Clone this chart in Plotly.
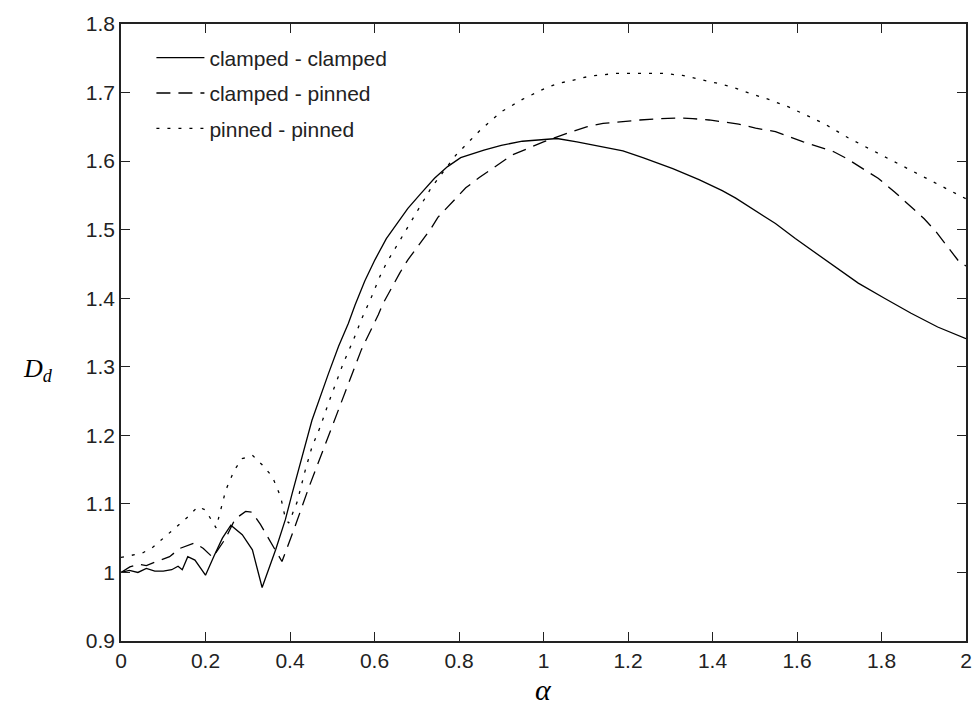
import plotly.graph_objects as go

# clamped - clamped (solid)
cc_x = [0, 0.02, 0.04, 0.06, 0.08, 0.10, 0.12, 0.135, 0.145, 0.158, 0.175, 0.2, 0.221, 0.24, 0.26,
        0.287, 0.311, 0.334, 0.366, 0.389, 0.405, 0.425, 0.452, 0.491, 0.515, 0.538, 0.554, 0.577,
        0.601, 0.628, 0.656, 0.679, 0.71, 0.742, 0.773, 0.804, 0.859, 0.9, 0.95, 1.0, 1.032, 1.079,
        1.133, 1.188, 1.235, 1.306, 1.368, 1.423, 1.455, 1.549, 1.596, 1.651, 1.682, 1.745, 1.807,
        1.87, 1.933, 1.988, 2.0]
cc_y = [1.0, 1.003, 1.0, 1.006, 1.002, 1.002, 1.004, 1.009, 1.004, 1.023, 1.018, 0.996, 1.025, 1.05,
        1.069, 1.055, 1.033, 0.978, 1.033, 1.077, 1.115, 1.159, 1.222, 1.29, 1.33, 1.363, 1.39,
        1.425, 1.456, 1.487, 1.511, 1.531, 1.553, 1.575, 1.592, 1.605, 1.616, 1.623, 1.629, 1.632,
        1.633, 1.628, 1.622, 1.615, 1.605, 1.589, 1.573, 1.557, 1.546, 1.509, 1.487, 1.463, 1.449,
        1.422, 1.4, 1.378, 1.358, 1.344, 1.341]

# clamped - pinned (dashed)
cp_x = [0, 0.021, 0.04, 0.06, 0.08, 0.1, 0.115, 0.139, 0.174, 0.195, 0.217, 0.248, 0.27, 0.295, 0.31,
        0.33, 0.366, 0.381, 0.409, 0.444, 0.483, 0.495, 0.519, 0.534, 0.558, 0.569, 0.609, 0.62,
        0.66, 0.679, 0.734, 0.75, 0.816, 0.848, 0.926, 1.0, 1.067, 1.102, 1.141, 1.188, 1.228,
        1.274, 1.32, 1.353, 1.392, 1.462, 1.502, 1.549, 1.572, 1.615, 1.686, 1.717, 1.792, 1.831,
        1.901, 1.929, 1.984, 2.0]
cp_y = [1.0, 1.008, 1.012, 1.01, 1.015, 1.02, 1.023, 1.035, 1.043, 1.035, 1.022, 1.05, 1.078, 1.089,
        1.088, 1.07, 1.033, 1.016, 1.062, 1.123, 1.186, 1.205, 1.245, 1.269, 1.305, 1.325, 1.376,
        1.392, 1.437, 1.456, 1.502, 1.518, 1.561, 1.576, 1.609, 1.628, 1.643, 1.65, 1.655, 1.658,
        1.66, 1.662, 1.663, 1.662, 1.66, 1.654, 1.648, 1.643, 1.638, 1.628, 1.614, 1.604, 1.575,
        1.555, 1.516, 1.497, 1.453, 1.447]

# pinned - pinned (dotted)
pp_x = [0, 0.03, 0.05, 0.076, 0.1, 0.131, 0.16, 0.182, 0.2, 0.225, 0.248, 0.268, 0.287, 0.311, 0.334,
        0.358, 0.378, 0.389, 0.397, 0.417, 0.436, 0.452, 0.472, 0.491, 0.526, 0.55, 0.569, 0.593,
        0.613, 0.628, 0.656, 0.683, 0.703, 0.718, 0.734, 0.793, 0.85, 0.9, 0.95, 1.0, 1.032, 1.063,
        1.11, 1.173, 1.282, 1.329, 1.368, 1.408, 1.447, 1.478, 1.533, 1.58, 1.615, 1.666, 1.721,
        1.784, 1.831, 1.886, 1.941, 1.996, 2.0]
pp_y = [1.022, 1.025, 1.028, 1.037, 1.05, 1.067, 1.082, 1.096, 1.091, 1.065, 1.12, 1.149, 1.166,
        1.171, 1.157, 1.14, 1.11, 1.079, 1.072, 1.103, 1.149, 1.183, 1.213, 1.247, 1.305, 1.339,
        1.369, 1.402, 1.432, 1.451, 1.48, 1.51, 1.529, 1.545, 1.561, 1.609, 1.645, 1.672, 1.69,
        1.705, 1.713, 1.717, 1.724, 1.728, 1.728, 1.725, 1.72, 1.714, 1.708, 1.701, 1.69, 1.679,
        1.669, 1.654, 1.634, 1.614, 1.599, 1.581, 1.563, 1.546, 1.545]

x_ticks = [0, 0.2, 0.4, 0.6, 0.8, 1.0, 1.2, 1.4, 1.6, 1.8, 2.0]
x_labels = ["0", "0.2", "0.4", "0.6", "0.8", "1", "1.2", "1.4", "1.6", "1.8", "2"]
y_ticks = [0.9, 1.0, 1.1, 1.2, 1.3, 1.4, 1.5, 1.6, 1.7, 1.8]
y_labels = ["0.9", "1", "1.1", "1.2", "1.3", "1.4", "1.5", "1.6", "1.7", "1.8"]

names = ["clamped - clamped", "clamped - pinned", "pinned - pinned"]

fig = go.Figure()
fig.add_trace(go.Scatter(x=cc_x, y=cc_y, mode="lines", name=names[0], legendgroup="a",
                         line=dict(color="black", width=1.3, dash="solid")))
fig.add_trace(go.Scatter(x=cp_x, y=cp_y, mode="lines", name=names[1], legendgroup="b",
                         line=dict(color="black", width=1.3, dash="14px,8px")))
fig.add_trace(go.Scatter(x=pp_x, y=pp_y, mode="lines", name=names[2], legendgroup="c",
                         line=dict(color="black", width=1.3, dash="3px,8px")))

tickfont = dict(family="Liberation Sans, Arial, sans-serif", size=21, color="#222")
fig.update_layout(
    width=980, height=709,
    margin=dict(l=121, r=8, t=24, b=68),
    paper_bgcolor="white", plot_bgcolor="white",
    showlegend=True,
    legend=dict(x=0.036, y=0.978, xanchor="left", yanchor="top",
                bgcolor="rgba(0,0,0,0)", borderwidth=0, traceorder="grouped",
                tracegroupgap=5, itemwidth=48,
                font=dict(family="Liberation Sans, Arial, sans-serif", size=21, color="#222")),
    xaxis=dict(range=[0, 2], tickvals=x_ticks, ticktext=x_labels, ticks="inside", ticklen=9,
               tickcolor="#222", tickwidth=1.3, showline=True, linecolor="#222", linewidth=1.6,
               mirror="ticks", showgrid=False, zeroline=False, tickfont=tickfont),
    yaxis=dict(range=[0.9, 1.8], tickvals=y_ticks, ticktext=y_labels, ticks="inside", ticklen=9,
               tickcolor="#222", tickwidth=1.3, showline=True, linecolor="#222", linewidth=1.6,
               mirror="ticks", showgrid=False, zeroline=False, tickfont=tickfont),
    annotations=[
        dict(text="<i>D</i><sub><i>d</i></sub>", xref="paper", yref="paper", x=-0.098, y=0.439,
             showarrow=False, xanchor="center", yanchor="middle",
             font=dict(family="Liberation Serif, Times New Roman, serif", size=26, color="black")),
        dict(text="<i>α</i>", xref="paper", yref="paper", x=0.5, y=-0.079,
             showarrow=False, xanchor="center", yanchor="middle",
             font=dict(family="Liberation Serif, Times New Roman, serif", size=30, color="black")),
    ],
)

fig.write_html("out.html")
